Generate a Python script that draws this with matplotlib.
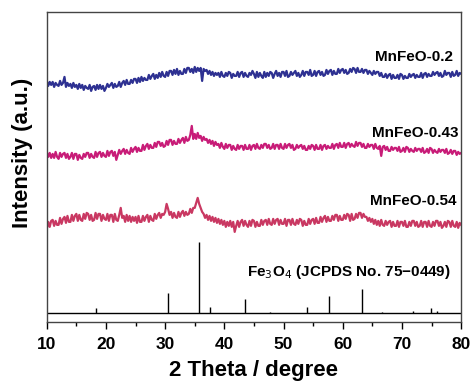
import numpy as np
import matplotlib
matplotlib.use("Agg")
import matplotlib.pyplot as plt

plt.rcParams['font.family'] = ['Liberation Sans', 'DejaVu Sans']

# 2 theta sampled every 0.25 degree, 10..80
two_theta = np.linspace(10, 80, 281)

# one row per degree (4 samples each)
mnfeo_02 = [
    9, 4, 8, 5,  8, 3, 7, 5,  4, 9, 5, 7,  13, 3, 7, 4,  6, 2, 7, 3,
    5, 1, 6, 2,  5, 0, 4, 2,  1, 5, -1, 3,  4, 0, 5, 1,  5, 1, 4, -1,
    2, 6, 3, 5,  7, 2, 6, 3,  4, 8, 3, 7,  9, 5, 10, 6,  6, 10, 7, 11,
    11, 7, 12, 8,  13, 9, 12, 10,  10, 15, 11, 14,  16, 11, 15, 12,  17, 13, 18, 14,
    13, 18, 14, 19,  19, 15, 20, 16,  21, 15, 19, 16,  16, 21, 17, 22,  22, 18, 21, 17,
    23, 18, 22, 19,  22, 9, 21, 19,  20, 16, 19, 15,  18, 14, 17, 15,  17, 13, 18, 14,
    13, 17, 14, 18,  17, 12, 16, 14,  14, 18, 13, 17,  18, 13, 17, 14,  13, 17, 15, 19,
    16, 12, 18, 13,  17, 14, 12, 18,  13, 17, 14, 18,  17, 12, 16, 19,  14, 17, 13, 18,
    18, 14, 19, 13,  14, 18, 15, 17,  19, 14, 17, 13,  15, 19, 14, 18,  18, 15, 20, 14,
    15, 19, 14, 18,  19, 15, 18, 14,  15, 20, 16, 19,  20, 15, 19, 16,  16, 21, 17, 20,
    21, 17, 20, 16,  17, 21, 18, 22,  21, 17, 22, 18,  18, 21, 17, 20,  20, 16, 19, 17,
    15, 19, 16, 18,  18, 14, 17, 13,  13, 16, 12, 15,  16, 11, 15, 12,  12, 15, 11, 16,
    15, 11, 14, 12,  12, 16, 13, 15,  16, 12, 15, 13,  13, 17, 12, 16,  17, 13, 16, 14,
    14, 18, 15, 17,  18, 14, 17, 13,  14, 19, 15, 17,  17, 13, 18, 14,  15, 19, 14, 17,
    16,
]
mnfeo_043 = [
    8, 3, 7, 2,  6, 2, 8, 3,  1, 7, 3, 6,  7, 2, 6, 1,  3, 7, 1, 6,
    6, 0, 5, 2,  1, 6, 3, 7,  7, 2, 6, 3,  2, 8, 3, 7,  8, 3, 7, 4,
    3, 9, 4, 8,  9, 4, 8, 0,  5, 10, 6, 9,  11, 6, 10, 7,  6, 12, 8, 11,
    13, 8, 12, 9,  9, 15, 10, 14,  16, 11, 15, 12,  12, 17, 13, 18,  18, 14, 17, 13,
    14, 19, 15, 20,  20, 15, 19, 16,  16, 21, 17, 20,  22, 17, 23, 19,  20, 25, 34, 21,
    26, 21, 27, 22,  24, 19, 23, 20,  21, 17, 20, 16,  19, 14, 18, 15,  16, 12, 17, 13,
    11, 16, 12, 15,  15, 10, 14, 11,  10, 15, 11, 14,  14, 10, 15, 11,  11, 15, 10, 14,
    15, 11, 16, 12,  11, 15, 12, 16,  16, 12, 15, 11,  12, 16, 11, 15,  15, 11, 16, 12,
    11, 16, 12, 15,  16, 12, 15, 10,  11, 15, 12, 14,  15, 11, 14, 10,  10, 14, 11, 15,
    14, 10, 15, 11,  11, 15, 10, 14,  15, 11, 14, 12,  12, 16, 11, 15,  16, 12, 17, 13,
    13, 17, 12, 16,  17, 13, 16, 14,  13, 18, 14, 17,  17, 13, 16, 12,  12, 16, 13, 15,
    15, 11, 16, 12,  11, 14, 4, 13,  14, 10, 13, 9,  9, 13, 10, 12,  12, 9, 13, 8,
    9, 12, 8, 13,  12, 8, 11, 9,  8, 12, 9, 11,  11, 8, 12, 7,  8, 11, 7, 12,
    11, 7, 10, 8,  7, 11, 8, 10,  10, 7, 11, 6,  7, 10, 6, 9,  9, 5, 8, 6,
    7,
]
mnfeo_054 = [
    1, 8, 3, 9,  10, 4, 9, 5,  5, 12, 6, 11,  13, 7, 14, 8,  8, 15, 9, 14,
    16, 9, 15, 10,  9, 16, 11, 17,  16, 10, 15, 9,  10, 17, 11, 16,  16, 9, 15, 11,
    10, 16, 9, 15,  15, 8, 16, 10,  9, 15, 22, 12,  14, 8, 15, 9,  14, 8, 13, 9,
    13, 7, 14, 8,  8, 14, 9, 13,  15, 8, 14, 10,  9, 16, 11, 15,  17, 12, 16, 15,
    18, 26, 21, 15,  18, 12, 17, 13,  12, 18, 13, 17,  19, 14, 18, 15,  16, 21, 17, 22,
    22, 27, 32, 26,  22, 18, 16, 12,  15, 10, 14, 9,  13, 8, 12, 7,  11, 6, 10, 5,
    9, 3, 8, 4,  9, 3, 8, -2,  4, 9, 3, 8,  10, 4, 9, 5,  3, 9, 4, 10,
    9, 3, 8, 4,  4, 10, 5, 9,  10, 5, 11, 6,  5, 11, 6, 10,  11, 5, 10, 6,
    6, 11, 4, 10,  10, 5, 11, 6,  5, 10, 6, 11,  10, 4, 9, 5,  5, 11, 6, 10,
    11, 6, 12, 7,  7, 13, 8, 12,  14, 8, 13, 9,  9, 14, 10, 15,  15, 9, 14, 10,
    10, 15, 11, 16,  15, 9, 16, 10,  11, 16, 12, 17,  17, 12, 16, 13,  13, 9, 12, 8,
    11, 6, 10, 5,  9, 4, 10, 5,  4, 9, 5, 8,  9, 3, 8, 4,  4, 9, 3, 8,
    8, 4, 9, 3,  3, 8, 4, 9,  9, 4, 8, 3,  4, 9, 3, 8,  8, 3, 9, 4,
    3, 8, 4, 9,  9, 4, 8, 2,  4, 8, 3, 9,  8, 3, 9, 4,  3, 8, 2, 7,
    5,
]
labels = ['MnFeO-0.2', 'MnFeO-0.43', 'MnFeO-0.54']
offsets = [232, 162, 92]
colors = ['#2E3192', '#C81C78', '#C93862']

# Fe3O4 reference lines (JCPDS 75-0449)
ref_pos = [18.4, 30.4, 35.8, 37.5, 43.5, 47.7, 54.0, 57.6, 63.3, 66.6, 71.8, 74.9, 75.9]
ref_int = [5, 20, 71, 5.5, 14, 1, 6, 17, 23.5, 1, 1.5, 4.5, 2]
ref_base = 9

fig = plt.figure(figsize=(4.72, 3.85), dpi=100)
ax = fig.add_axes([0.099, 0.164, 0.878, 0.805])

series = [mnfeo_02, mnfeo_043, mnfeo_054]
for s, off, c in zip(series, offsets, colors):
    ax.plot(two_theta, np.array(s) + off, color=c, lw=1.6)

ax.axhline(ref_base, color='black', lw=1.0)
ax.vlines(ref_pos, ref_base, ref_base + np.array(ref_int), color='black', lw=1.0)

ax.text(78.6, 265, labels[0], ha='right', va='center', fontsize=11, fontweight='bold')
ax.text(79.5, 189, labels[1], ha='right', va='center', fontsize=11, fontweight='bold')
ax.text(79.3, 121, labels[2], ha='right', va='center', fontsize=11, fontweight='bold')
ax.text(43.8, 50, 'Fe$_3$O$_4$ (JCPDS No. 75\u22120449)', ha='left', va='center',
        fontsize=11, fontweight='bold')

ax.set_xlim(10, 80)
ax.set_ylim(0, 310)
ax.set_xticks(range(10, 81, 10))
ax.set_xticks(range(15, 80, 10), minor=True)
ax.set_yticks([])
ax.tick_params(axis='x', which='major', length=5, width=1, direction='out', labelsize=12.5, pad=6)
ax.tick_params(axis='x', which='minor', length=3, width=1, direction='out')
for lab in ax.get_xticklabels():
    lab.set_fontweight('bold')
for sp in ax.spines.values():
    sp.set_color('#444444')
    sp.set_linewidth(1.0)

ax.set_xlabel('2 Theta / degree', fontsize=16, fontweight='bold', labelpad=6)
ax.set_ylabel('Intensity (a.u.)', fontsize=16, fontweight='bold')
ax.yaxis.set_label_coords(-0.033, 0.544)

fig.savefig('out.png', dpi=100)
